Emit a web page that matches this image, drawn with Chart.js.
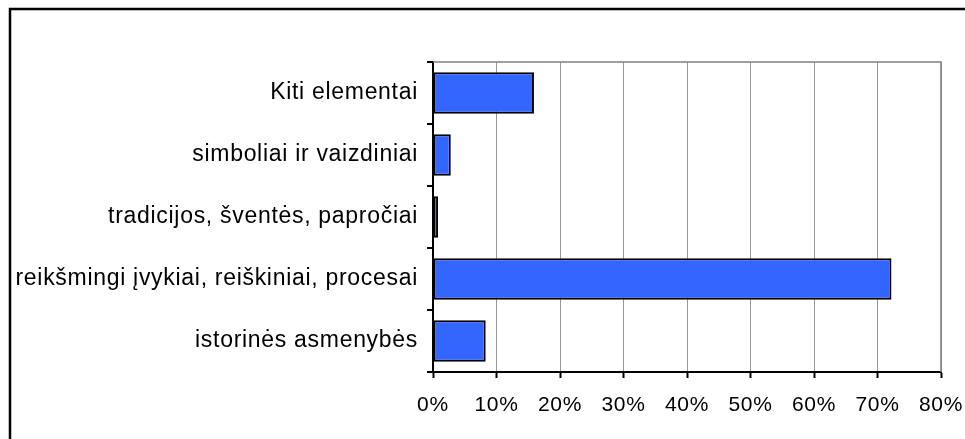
<!DOCTYPE html>
<html>
<head>
<meta charset="utf-8">
<script src="https://cdn.jsdelivr.net/npm/chart.js@4/dist/chart.umd.min.js"></script>
<style>
html,body{margin:0;padding:0;background:#fff;}
#wrap{position:relative;width:965px;height:439px;}
</style>
</head>
<body>
<div id="wrap"><canvas id="c" width="965" height="439"></canvas></div>
<script>
const categories = [
  "Kiti elementai",
  "simboliai ir vaizdiniai",
  "tradicijos, šventės, papročiai",
  "reikšmingi įvykiai, reiškiniai, procesai",
  "istorinės asmenybės"
];
const shares = [15.9, 2.8, 0.8, 72.2, 8.3];
const xTicks = [0, 10, 20, 30, 40, 50, 60, 70, 80];

const frame = {
  id: 'frame',
  beforeDraw(chart) {
    const ctx = chart.ctx;
    ctx.fillStyle = '#fff';
    ctx.fillRect(0, 0, chart.width, chart.height);
    ctx.save();
    ctx.strokeStyle = '#000';
    ctx.lineWidth = 2.5;
    ctx.beginPath();
    ctx.moveTo(10, chart.height + 5);
    ctx.lineTo(10, 9);
    ctx.lineTo(chart.width + 5, 9);
    ctx.stroke();
    ctx.restore();
    ctx.letterSpacing = '0.7px';
  },
  beforeDatasetsDraw(chart) {
    const a = chart.chartArea, ctx = chart.ctx;
    ctx.save();
    ctx.strokeStyle = '#808080';
    ctx.lineWidth = 1.5;
    ctx.beginPath();
    ctx.moveTo(a.left, a.top);
    ctx.lineTo(a.right, a.top);
    ctx.lineTo(a.right, a.bottom);
    ctx.stroke();
    ctx.restore();
  }
};

new Chart(document.getElementById('c'), {
  type: 'bar',
  data: {
    labels: categories,
    datasets: [{
      data: shares,
      backgroundColor: '#3366FF',
      borderColor: '#000',
      borderWidth: 2,
      borderSkipped: false,
      categoryPercentage: 1,
      barPercentage: 0.67
    }]
  },
  options: {
    indexAxis: 'y',
    responsive: false,
    animation: false,
    devicePixelRatio: 1,
    layout: { padding: { left: 0, right: 24, top: 62, bottom: 0 } },
    plugins: { legend: { display: false }, tooltip: { enabled: false } },
    scales: {
      x: {
        min: 0, max: 80,
        afterBuildTicks(s) { s.ticks = xTicks.map(v => ({ value: v })); },
        afterFit(s) { s.height = 67; s.paddingLeft = 0; s.paddingRight = 0; },
        border: { display: true, color: '#000', width: 2 },
        grid: {
          color: '#999999',
          lineWidth: 1,
          borderDash: [1, 1],
          drawTicks: true,
          tickLength: 6,
          tickColor: '#000',
          tickWidth: 2,
          tickBorderDash: []
        },
        ticks: {
          color: '#000',
          padding: 15,
          maxRotation: 0,
          autoSkip: false,
          font: { family: 'Liberation Sans, Arial, sans-serif', size: 21 },
          callback: v => v + '%'
        }
      },
      y: {
        afterFit(s) { s.width = 433; s.paddingTop = 0; s.paddingBottom = 0; },
        border: { display: true, color: '#000', width: 2 },
        grid: {
          offset: true,
          drawOnChartArea: false,
          drawTicks: true,
          tickLength: 6,
          color: '#000',
          lineWidth: 2
        },
        ticks: {
          color: '#000',
          padding: 9,
          font: { family: 'Liberation Sans, Arial, sans-serif', size: 23 }
        }
      }
    }
  },
  plugins: [frame]
});
</script>
</body>
</html>
